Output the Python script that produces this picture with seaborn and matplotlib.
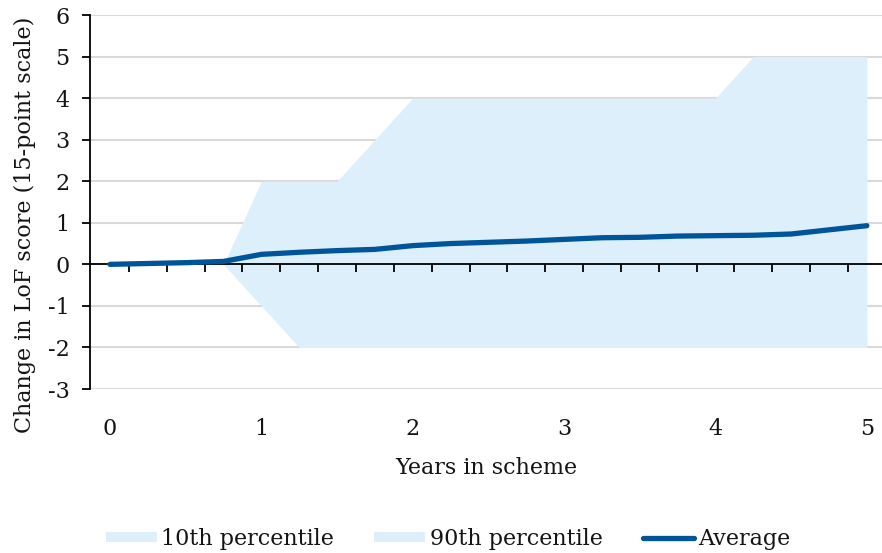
import matplotlib
matplotlib.use("Agg")
import matplotlib.pyplot as plt
from matplotlib.patches import Patch
from matplotlib.lines import Line2D
import seaborn as sns
import pandas as pd

# Quarterly observations over five years in the scheme
years = [0, 0.25, 0.5, 0.75, 1, 1.25, 1.5, 1.75, 2, 2.25, 2.5, 2.75, 3,
         3.25, 3.5, 3.75, 4, 4.25, 4.5, 4.75, 5]
p10 = [0, 0, 0, 0, -1, -2, -2, -2, -2, -2, -2, -2, -2,
       -2, -2, -2, -2, -2, -2, -2, -2]
p90 = [0, 0, 0, 0, 2, 2, 2, 3, 4, 4, 4, 4, 4,
       4, 4, 4, 4, 5, 5, 5, 5]
average = [0, 0.02, 0.04, 0.07, 0.24, 0.29, 0.33, 0.36, 0.45, 0.50, 0.53,
           0.56, 0.60, 0.64, 0.65, 0.68, 0.69, 0.70, 0.73, 0.83, 0.93]
x_labels = [0, 1, 2, 3, 4, 5]
y_ticks = [-3, -2, -1, 0, 1, 2, 3, 4, 5, 6]

df = pd.DataFrame({"years": years, "p10": p10, "p90": p90, "average": average})

sns.set_theme(style="white")
plt.rcParams["font.family"] = ["DejaVu Serif", "Liberation Serif"]
FS = 16
TXT = "#141414"

BAND = "#DEEFFC"
LINE = "#00559A"
GRID = "#D9D9D9"

fig = plt.figure(figsize=(8.82, 5.53), dpi=100)
ax = fig.add_axes([90 / 882, 1 - 389 / 553, 1 - 90 / 882, (389 - 15) / 553])

ax.fill_between(df["years"], 0, df["p10"], color=BAND, lw=0, zorder=1)
ax.fill_between(df["years"], 0, df["p90"], color=BAND, lw=0, zorder=1)
sns.lineplot(data=df, x="years", y="average", ax=ax, color=LINE, lw=3.8,
             solid_capstyle="round", zorder=4, legend=False)

ax.set_xlim(-0.132, 5.1)
ax.set_ylim(-3, 6)
ax.set_yticks(y_ticks)
ax.set_yticklabels([str(v) for v in y_ticks])
ax.set_xticks(x_labels)
ax.set_xticklabels([str(v) for v in x_labels])

ax.yaxis.grid(True, color=GRID, lw=1.5, zorder=0)
ax.set_axisbelow(True)
for side in ("top", "right", "bottom"):
    ax.spines[side].set_visible(False)
ax.spines["left"].set_color("black")
ax.spines["left"].set_linewidth(1.3)

ax.tick_params(axis="y", direction="out", length=5.8, width=1.3, color="black",
               left=True, pad=9, labelsize=FS, labelcolor=TXT)
ax.tick_params(axis="x", length=0, pad=21, labelsize=FS, labelcolor=TXT)

# Horizontal axis line crossing at zero, with ticks between quarters
zero_axis = ax.secondary_xaxis(0, transform=ax.transData)
zero_axis.set_zorder(3)
mids = [(a + b) / 2 for a, b in zip(years[:-1], years[1:])]
zero_axis.set_xticks(mids)
zero_axis.tick_params(direction="out", length=5.8, width=1.3, color="black",
                      labelbottom=False)
zero_axis.spines["bottom"].set_color("black")
zero_axis.spines["bottom"].set_linewidth(1.3)

ax.set_xlabel("Years in scheme", fontsize=FS, color=TXT, labelpad=12)
ax.set_ylabel("Change in LoF score (15-point scale)", fontsize=FS, color=TXT)
ax.yaxis.set_label_coords(-0.068, 0.44)

handles = [
    Patch(facecolor=BAND, edgecolor="none", label="10th percentile"),
    Patch(facecolor=BAND, edgecolor="none", label="90th percentile"),
    Line2D([], [], color=LINE, lw=3.8, solid_capstyle="round", label="Average"),
]
fig.legend(handles=handles, loc="center", bbox_to_anchor=(448 / 882, 1 - 539 / 553),
           ncol=3, frameon=False, fontsize=FS, handlelength=2.3, handleheight=0.35,
           handletextpad=0.2, columnspacing=1.8, labelcolor=TXT)

fig.savefig("out.png", dpi=100)
